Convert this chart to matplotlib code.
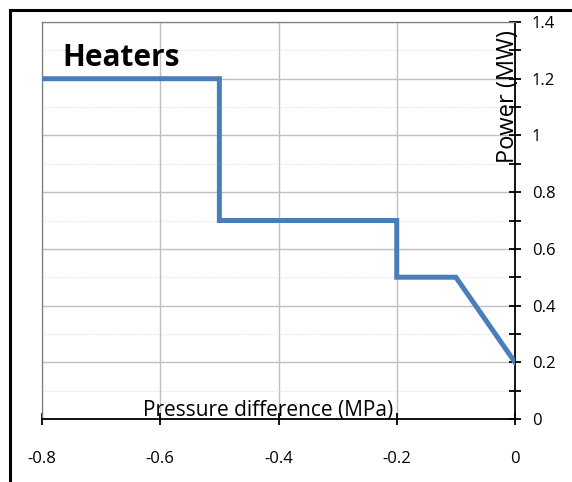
import matplotlib
matplotlib.use("Agg")
import matplotlib.pyplot as plt
from matplotlib.patches import Rectangle
from matplotlib.ticker import MultipleLocator

pressure = [-0.8, -0.5, -0.5, -0.2, -0.2, -0.1, 0.0]
power = [1.2, 1.2, 0.7, 0.7, 0.5, 0.5, 0.2]
xticks = [-0.8, -0.6, -0.4, -0.2, 0]
xticklabels = ["-0.8", "-0.6", "-0.4", "-0.2", "0"]
yticks = [0, 0.2, 0.4, 0.6, 0.8, 1.0, 1.2, 1.4]
yticklabels = ["0", "0.2", "0.4", "0.6", "0.8", "1", "1.2", "1.4"]

plt.rcParams['font.family'] = ['Open Sans', 'DejaVu Sans']

W, H = 572, 482
fig = plt.figure(figsize=(W/100, H/100), dpi=100)
fig.patches.append(Rectangle((10/W, -0.1), 1.2, 1 - 10/H + 0.1, transform=fig.transFigure,
                             fill=False, edgecolor='black', linewidth=2.2))

ax_l, ax_r, ax_t, ax_b = 42, 515, 22, 419
ax = fig.add_axes([ax_l/W, 1 - ax_b/H, (ax_r-ax_l)/W, (ax_b-ax_t)/H])
ax.set_xlim(-0.8, 0)
ax.set_ylim(0, 1.4)

ax.plot(pressure, power, color='#4A7EBB', linewidth=3.6, solid_joinstyle='miter', zorder=3)

ax.spines['bottom'].set_position(('data', 0))
ax.spines['right'].set_position(('data', 0))
ax.yaxis.tick_right()
ax.yaxis.set_label_position('right')

ax.set_xticks(xticks)
ax.set_xticklabels(xticklabels)
ax.set_yticks(yticks)
ax.set_yticklabels(yticklabels)
ax.yaxis.set_minor_locator(MultipleLocator(0.1))

ax.grid(True, which='major', color='#BFBFBF', linewidth=1.0)
ax.grid(True, which='minor', axis='y', color='#D9D9D9', linewidth=0.7, linestyle=':')

for s in ['top', 'left']:
    ax.spines[s].set_color('#7F7F7F')
    ax.spines[s].set_linewidth(0.9)
ax.spines['bottom'].set_linewidth(1.3)
ax.spines['right'].set_linewidth(1.3)

ax.tick_params(axis='x', which='major', direction='inout', length=8, width=1.3,
               pad=19, labelsize=12)
ax.tick_params(axis='y', which='both', direction='inout', length=8, width=1.3,
               pad=8, labelsize=12)
ax.tick_params(axis='x', which='minor', length=0)

fig.text(143/W, 1 - 416/H, "Pressure difference (MPa)", ha='left', va='baseline',
         fontsize=15, zorder=5)
fig.text(514/W, 1 - 30/H, "Power (MW)", rotation=90, rotation_mode='anchor',
         ha='right', va='baseline', fontsize=17, zorder=5)
fig.text(62/W, 1 - 66/H, "Heaters", ha='left', va='baseline',
         fontsize=21.5, fontweight='bold', zorder=5)

fig.savefig("out.png", dpi=100)
